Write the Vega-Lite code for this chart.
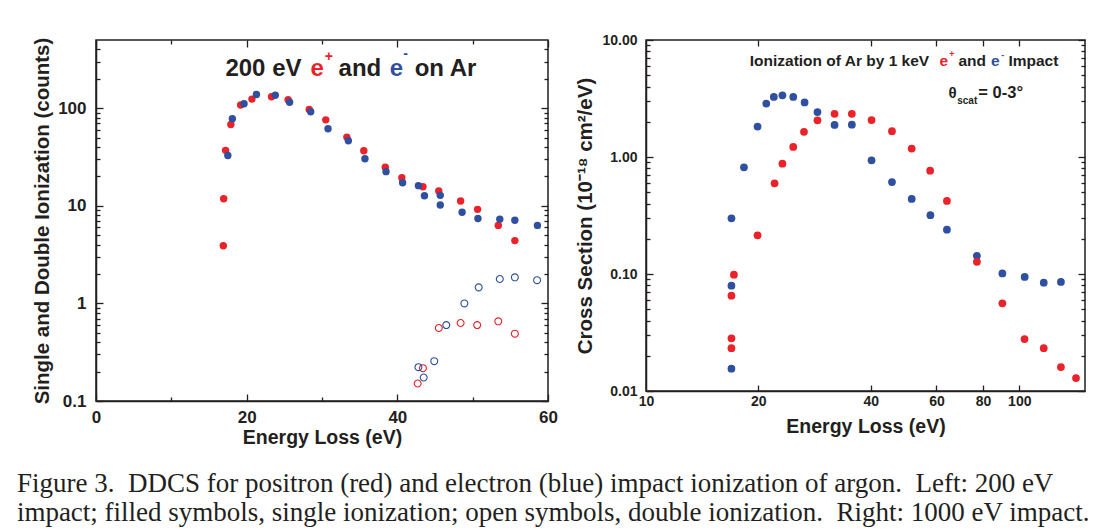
{
  "$schema": "https://vega.github.io/schema/vega-lite/v6.json",
  "background": "white",
  "padding": {"left": 16, "top": 32, "right": 5, "bottom": 5},
  "spacing": 16,
  "datasets": {
    "left": [
      {"E": 16.9, "v": 3.9, "beam": "e+", "kind": "single"},
      {"E": 16.95, "v": 11.8, "beam": "e+", "kind": "single"},
      {"E": 17.2, "v": 37, "beam": "e+", "kind": "single"},
      {"E": 17.9, "v": 68, "beam": "e+", "kind": "single"},
      {"E": 19.2, "v": 108, "beam": "e+", "kind": "single"},
      {"E": 20.7, "v": 124, "beam": "e+", "kind": "single"},
      {"E": 23.3, "v": 131, "beam": "e+", "kind": "single"},
      {"E": 25.5, "v": 122, "beam": "e+", "kind": "single"},
      {"E": 28.3, "v": 97, "beam": "e+", "kind": "single"},
      {"E": 30.5, "v": 76, "beam": "e+", "kind": "single"},
      {"E": 33.3, "v": 50.6, "beam": "e+", "kind": "single"},
      {"E": 35.55, "v": 36.6, "beam": "e+", "kind": "single"},
      {"E": 38.4, "v": 24.8, "beam": "e+", "kind": "single"},
      {"E": 40.6, "v": 19.4, "beam": "e+", "kind": "single"},
      {"E": 43.4, "v": 15.7, "beam": "e+", "kind": "single"},
      {"E": 45.5, "v": 14.2, "beam": "e+", "kind": "single"},
      {"E": 48.4, "v": 11.2, "beam": "e+", "kind": "single"},
      {"E": 50.65, "v": 9.2, "beam": "e+", "kind": "single"},
      {"E": 53.4, "v": 6.3, "beam": "e+", "kind": "single"},
      {"E": 55.6, "v": 4.4, "beam": "e+", "kind": "single"},
      {"E": 17.5, "v": 32.8, "beam": "e-", "kind": "single"},
      {"E": 18.1, "v": 78, "beam": "e-", "kind": "single"},
      {"E": 19.65, "v": 111, "beam": "e-", "kind": "single"},
      {"E": 21.3, "v": 138, "beam": "e-", "kind": "single"},
      {"E": 23.8, "v": 136, "beam": "e-", "kind": "single"},
      {"E": 25.7, "v": 115, "beam": "e-", "kind": "single"},
      {"E": 28.5, "v": 92, "beam": "e-", "kind": "single"},
      {"E": 30.8, "v": 61.5, "beam": "e-", "kind": "single"},
      {"E": 33.5, "v": 46.4, "beam": "e-", "kind": "single"},
      {"E": 35.7, "v": 30.4, "beam": "e-", "kind": "single"},
      {"E": 38.5, "v": 22.4, "beam": "e-", "kind": "single"},
      {"E": 40.7, "v": 17.2, "beam": "e-", "kind": "single"},
      {"E": 42.8, "v": 16.1, "beam": "e-", "kind": "single"},
      {"E": 43.6, "v": 12.7, "beam": "e-", "kind": "single"},
      {"E": 45.7, "v": 12.8, "beam": "e-", "kind": "single"},
      {"E": 45.7, "v": 10.2, "beam": "e-", "kind": "single"},
      {"E": 48.6, "v": 8.6, "beam": "e-", "kind": "single"},
      {"E": 50.7, "v": 7.4, "beam": "e-", "kind": "single"},
      {"E": 53.6, "v": 7.3, "beam": "e-", "kind": "single"},
      {"E": 55.6, "v": 7.1, "beam": "e-", "kind": "single"},
      {"E": 58.6, "v": 6.3, "beam": "e-", "kind": "single"},
      {"E": 42.7, "v": 0.151, "beam": "e+", "kind": "double"},
      {"E": 43.4, "v": 0.217, "beam": "e+", "kind": "double"},
      {"E": 45.5, "v": 0.56, "beam": "e+", "kind": "double"},
      {"E": 48.4, "v": 0.63, "beam": "e+", "kind": "double"},
      {"E": 50.6, "v": 0.6, "beam": "e+", "kind": "double"},
      {"E": 53.4, "v": 0.655, "beam": "e+", "kind": "double"},
      {"E": 55.6, "v": 0.49, "beam": "e+", "kind": "double"},
      {"E": 42.8, "v": 0.222, "beam": "e-", "kind": "double"},
      {"E": 43.5, "v": 0.174, "beam": "e-", "kind": "double"},
      {"E": 44.9, "v": 0.256, "beam": "e-", "kind": "double"},
      {"E": 46.5, "v": 0.6, "beam": "e-", "kind": "double"},
      {"E": 48.9, "v": 1.0, "beam": "e-", "kind": "double"},
      {"E": 50.8, "v": 1.46, "beam": "e-", "kind": "double"},
      {"E": 53.6, "v": 1.78, "beam": "e-", "kind": "double"},
      {"E": 55.6, "v": 1.85, "beam": "e-", "kind": "double"},
      {"E": 58.55, "v": 1.73, "beam": "e-", "kind": "double"}
    ],
    "right": [
      {"E": 16.94, "v": 0.0155, "beam": "e-"},
      {"E": 16.94, "v": 0.0794, "beam": "e-"},
      {"E": 16.94, "v": 0.299, "beam": "e-"},
      {"E": 18.3, "v": 0.817, "beam": "e-"},
      {"E": 19.9, "v": 1.82, "beam": "e-"},
      {"E": 21.0, "v": 2.86, "beam": "e-"},
      {"E": 22.0, "v": 3.26, "beam": "e-"},
      {"E": 23.2, "v": 3.37, "beam": "e-"},
      {"E": 24.8, "v": 3.26, "beam": "e-"},
      {"E": 26.6, "v": 2.93, "beam": "e-"},
      {"E": 28.8, "v": 2.42, "beam": "e-"},
      {"E": 32.0, "v": 1.88, "beam": "e-"},
      {"E": 35.6, "v": 1.89, "beam": "e-"},
      {"E": 40.2, "v": 0.937, "beam": "e-"},
      {"E": 45.6, "v": 0.611, "beam": "e-"},
      {"E": 51.5, "v": 0.438, "beam": "e-"},
      {"E": 57.8, "v": 0.318, "beam": "e-"},
      {"E": 64.0, "v": 0.239, "beam": "e-"},
      {"E": 77.0, "v": 0.143, "beam": "e-"},
      {"E": 90.1, "v": 0.101, "beam": "e-"},
      {"E": 103.4, "v": 0.0943, "beam": "e-"},
      {"E": 116.3, "v": 0.0843, "beam": "e-"},
      {"E": 129.3, "v": 0.0855, "beam": "e-"},
      {"E": 16.94, "v": 0.0232, "beam": "e+"},
      {"E": 16.94, "v": 0.0282, "beam": "e+"},
      {"E": 16.94, "v": 0.0653, "beam": "e+"},
      {"E": 17.2, "v": 0.0986, "beam": "e+"},
      {"E": 19.9, "v": 0.214, "beam": "e+"},
      {"E": 22.1, "v": 0.596, "beam": "e+"},
      {"E": 23.2, "v": 0.877, "beam": "e+"},
      {"E": 24.8, "v": 1.22, "beam": "e+"},
      {"E": 26.5, "v": 1.64, "beam": "e+"},
      {"E": 28.8, "v": 2.06, "beam": "e+"},
      {"E": 32.0, "v": 2.34, "beam": "e+"},
      {"E": 35.6, "v": 2.34, "beam": "e+"},
      {"E": 40.2, "v": 2.07, "beam": "e+"},
      {"E": 45.6, "v": 1.66, "beam": "e+"},
      {"E": 51.5, "v": 1.18, "beam": "e+"},
      {"E": 57.7, "v": 0.764, "beam": "e+"},
      {"E": 64.0, "v": 0.421, "beam": "e+"},
      {"E": 77.0, "v": 0.127, "beam": "e+"},
      {"E": 90.1, "v": 0.0562, "beam": "e+"},
      {"E": 103.3, "v": 0.0278, "beam": "e+"},
      {"E": 116.3, "v": 0.0232, "beam": "e+"},
      {"E": 129.3, "v": 0.016, "beam": "e+"},
      {"E": 141.9, "v": 0.0129, "beam": "e+"}
    ]
  },
  "title": {
    "text": ["Figure 3. \u00a0DDCS for positron (red) and electron (blue) impact ionization of argon. \u00a0Left: 200 eV", "impact; filled symbols, single ionization; open symbols, double ionization. \u00a0Right: 1000 eV impact."],
    "orient": "bottom",
    "anchor": "start",
    "font": "Liberation Serif",
    "fontSize": 27,
    "fontWeight": "normal",
    "color": "#231f20",
    "lineHeight": 29,
    "offset": 24,
    "dx": -15
  },
  "hconcat": [
    {
      "width": 452,
      "height": 361,
      "resolve": {"axis": {"x": "independent", "y": "independent"}},
      "layer": [
        {
          "data": {"name": "left"},
          "transform": [{"filter": "datum.kind === 'single'"}],
          "mark": {"type": "point", "filled": true, "size": 55, "opacity": 1},
          "encoding": {
            "x": {"field": "E", "type": "quantitative", "scale": {"domain": [0, 60], "nice": false, "zero": false},
              "axis": {"orient": "bottom", "title": "Energy Loss (eV)", "values": [0, 20, 40, 60], "ticks": false,
                "labelPadding": 8, "labelFontSize": 17, "titlePadding": 3, "titleFontSize": 19.5}},
            "y": {"field": "v", "type": "quantitative", "scale": {"type": "log", "domain": [0.1, 500], "nice": false},
              "axis": {"orient": "left", "title": "Single and Double Ionization (counts)", "ticks": false,
                "values": [0.1, 1, 10, 100], "format": "~g",
                "labelPadding": 10, "labelFontSize": 17, "titlePadding": 5, "titleFontSize": 20.5}},
            "color": {"field": "beam", "type": "nominal", "scale": {"domain": ["e+", "e-"], "range": ["#ea2229", "#2f4f9f"]}, "legend": null}
          }
        },
        {
          "data": {"name": "left"},
          "transform": [{"filter": "datum.kind === 'double'"}],
          "mark": {"type": "point", "filled": false, "size": 48, "strokeWidth": 1.1, "opacity": 1},
          "encoding": {
            "x": {"field": "E", "type": "quantitative", "scale": {"domain": [0, 60], "nice": false, "zero": false}, "axis": null},
            "y": {"field": "v", "type": "quantitative", "scale": {"type": "log", "domain": [0.1, 500], "nice": false}, "axis": null},
            "color": {"field": "beam", "type": "nominal", "scale": {"domain": ["e+", "e-"], "range": ["#ea2229", "#2f4f9f"]}, "legend": null}
          }
        },
        {"data": {"values": [{}]}, "mark": {"type": "text", "text": "200 eV", "align": "left", "baseline": "alphabetic", "font": "Liberation Sans", "fontWeight": "bold", "fontSize": 24, "color": "#231f20"},
          "encoding": {
            "x": {"datum": 17.18, "axis": {"orient": "bottom", "title": null, "labels": false, "domain": false, "values": [0, 20, 40, 60], "tickSize": 7, "offset": -7}},
            "y": {"datum": 214, "axis": {"orient": "left", "title": null, "labels": false, "domain": false, "values": [0.1, 1, 10, 100], "tickSize": 7, "offset": -7}}}},
        {"data": {"values": [{}]}, "mark": {"type": "text", "text": "e", "align": "left", "baseline": "alphabetic", "font": "Liberation Sans", "fontWeight": "bold", "fontSize": 24, "color": "#ea2229"},
          "encoding": {
            "x": {"datum": 28.47, "axis": {"orient": "bottom", "title": null, "labels": false, "domain": false, "values": [10, 30, 50], "tickSize": 4, "offset": -4}},
            "y": {"datum": 214, "axis": {"orient": "left", "title": null, "labels": false, "domain": false, "values": [0.2, 0.3, 0.4, 0.5, 0.6, 0.7, 0.8, 0.9, 2, 3, 4, 5, 6, 7, 8, 9, 20, 30, 40, 50, 60, 70, 80, 90, 200, 300, 400], "tickSize": 4, "offset": -4}}}},
        {"data": {"values": [{}]}, "mark": {"type": "text", "text": "+", "align": "center", "baseline": "alphabetic", "font": "Liberation Sans", "fontWeight": "bold", "fontSize": 14, "color": "#ea2229"},
          "encoding": {"x": {"datum": 30.9, "axis": null}, "y": {"datum": 307, "axis": null}}},
        {"data": {"values": [{}]}, "mark": {"type": "text", "text": "and", "align": "left", "baseline": "alphabetic", "font": "Liberation Sans", "fontWeight": "bold", "fontSize": 24, "color": "#231f20"},
          "encoding": {
            "x": {"datum": 32.2, "axis": {"orient": "top", "title": null, "labels": false, "domain": false, "values": [0, 20, 40, 60], "tickSize": 7, "offset": -7}},
            "y": {"datum": 214, "axis": {"orient": "right", "title": null, "labels": false, "domain": false, "values": [0.1, 1, 10, 100], "tickSize": 7, "offset": -7}}}},
        {"data": {"values": [{}]}, "mark": {"type": "text", "text": "e", "align": "left", "baseline": "alphabetic", "font": "Liberation Sans", "fontWeight": "bold", "fontSize": 24, "color": "#2f4f9f"},
          "encoding": {
            "x": {"datum": 39.0, "axis": {"orient": "top", "title": null, "labels": false, "domain": false, "values": [10, 30, 50], "tickSize": 4, "offset": -4}},
            "y": {"datum": 214, "axis": {"orient": "right", "title": null, "labels": false, "domain": false, "values": [0.2, 0.3, 0.4, 0.5, 0.6, 0.7, 0.8, 0.9, 2, 3, 4, 5, 6, 7, 8, 9, 20, 30, 40, 50, 60, 70, 80, 90, 200, 300, 400], "tickSize": 4, "offset": -4}}}},
        {"data": {"values": [{}]}, "mark": {"type": "text", "text": "-", "align": "center", "baseline": "alphabetic", "font": "Liberation Sans", "fontWeight": "bold", "fontSize": 14, "color": "#2f4f9f"},
          "encoding": {"x": {"datum": 41.1, "axis": null}, "y": {"datum": 326, "axis": null}}},
        {"data": {"values": [{}]}, "mark": {"type": "text", "text": "on Ar", "align": "left", "baseline": "alphabetic", "font": "Liberation Sans", "fontWeight": "bold", "fontSize": 24, "color": "#231f20"},
          "encoding": {"x": {"datum": 42.3, "axis": null}, "y": {"datum": 214, "axis": null}}}
      ]
    },
    {
      "width": 439,
      "height": 351,
      "resolve": {"axis": {"x": "independent", "y": "independent"}},
      "layer": [
        {
          "data": {"name": "right"},
          "mark": {"type": "point", "filled": true, "size": 60, "opacity": 1},
          "encoding": {
            "x": {"field": "E", "type": "quantitative", "scale": {"type": "log", "domain": [10, 150], "nice": false},
              "axis": {"orient": "bottom", "title": "Energy Loss (eV)", "values": [10, 20, 40, 60, 80, 100], "ticks": false,
                "format": "~g", "labelPadding": 3, "labelFontSize": 14, "titlePadding": 9, "titleFontSize": 19.5}},
            "y": {"field": "v", "type": "quantitative", "scale": {"type": "log", "domain": [0.01, 10], "nice": false},
              "axis": {"orient": "left", "title": "Cross Section (10⁻¹⁸ cm²/eV)", "ticks": false,
                "values": [0.01, 0.1, 1, 10], "format": ".2f",
                "labelPadding": 9, "labelFontSize": 14, "titlePadding": 6, "titleFontSize": 20.5}},
            "color": {"field": "beam", "type": "nominal", "scale": {"domain": ["e+", "e-"], "range": ["#ea2229", "#2f4f9f"]}, "legend": null}
          }
        },
        {"data": {"values": [{}]}, "mark": {"type": "text", "text": "Ionization of Ar by 1 keV", "align": "left", "baseline": "alphabetic", "font": "Liberation Sans", "fontWeight": "bold", "fontSize": 15.5, "color": "#231f20"},
          "encoding": {
            "x": {"datum": 18.96, "axis": {"orient": "bottom", "title": null, "labels": false, "domain": false, "values": [20, 40, 60, 80, 100], "tickSize": 6, "offset": -6}},
            "y": {"datum": 6.03, "axis": {"orient": "left", "title": null, "labels": false, "domain": false, "values": [0.01, 0.1, 1, 10], "tickSize": 7, "offset": -7}}}},
        {"data": {"values": [{}]}, "mark": {"type": "text", "text": "e", "align": "left", "baseline": "alphabetic", "font": "Liberation Sans", "fontWeight": "bold", "fontSize": 15.5, "color": "#ea2229"},
          "encoding": {
            "x": {"datum": 61.1, "axis": {"orient": "top", "title": null, "labels": false, "domain": false, "values": [20, 40, 60, 80, 100], "tickSize": 6, "offset": -6}},
            "y": {"datum": 6.03, "axis": {"orient": "left", "title": null, "labels": false, "domain": false, "values": [0.02, 0.03, 0.04, 0.05, 0.06, 0.07, 0.08, 0.09, 0.2, 0.3, 0.4, 0.5, 0.6, 0.7, 0.8, 0.9, 2, 3, 4, 5, 6, 7, 8, 9], "tickSize": 4, "offset": -4}}}},
        {"data": {"values": [{}]}, "mark": {"type": "text", "text": "+", "align": "center", "baseline": "alphabetic", "font": "Liberation Sans", "fontWeight": "bold", "fontSize": 9, "color": "#ea2229"},
          "encoding": {"x": {"datum": 66.0, "axis": null}, "y": {"datum": 7.09, "axis": null}}},
        {"data": {"values": [{}]}, "mark": {"type": "text", "text": "and", "align": "left", "baseline": "alphabetic", "font": "Liberation Sans", "fontWeight": "bold", "fontSize": 15.5, "color": "#231f20"},
          "encoding": {
            "x": {"datum": 68.7, "axis": null},
            "y": {"datum": 6.03, "axis": {"orient": "right", "title": null, "labels": false, "domain": false, "values": [0.01, 0.1, 1, 10], "tickSize": 7, "offset": -7}}}},
        {"data": {"values": [{}]}, "mark": {"type": "text", "text": "e", "align": "left", "baseline": "alphabetic", "font": "Liberation Sans", "fontWeight": "bold", "fontSize": 15.5, "color": "#2f4f9f"},
          "encoding": {
            "x": {"datum": 84.0, "axis": null},
            "y": {"datum": 6.03, "axis": {"orient": "right", "title": null, "labels": false, "domain": false, "values": [0.02, 0.03, 0.04, 0.05, 0.06, 0.07, 0.08, 0.09, 0.2, 0.3, 0.4, 0.5, 0.6, 0.7, 0.8, 0.9, 2, 3, 4, 5, 6, 7, 8, 9], "tickSize": 4, "offset": -4}}}},
        {"data": {"values": [{}]}, "mark": {"type": "text", "text": "-", "align": "center", "baseline": "alphabetic", "font": "Liberation Sans", "fontWeight": "bold", "fontSize": 9, "color": "#2f4f9f"},
          "encoding": {"x": {"datum": 90.3, "axis": null}, "y": {"datum": 7.06, "axis": null}}},
        {"data": {"values": [{}]}, "mark": {"type": "text", "text": "Impact", "align": "left", "baseline": "alphabetic", "font": "Liberation Sans", "fontWeight": "bold", "fontSize": 15.5, "color": "#231f20"},
          "encoding": {"x": {"datum": 93.5, "axis": null}, "y": {"datum": 6.03, "axis": null}}},
        {"data": {"values": [{}]}, "mark": {"type": "text", "text": "θ", "align": "left", "baseline": "alphabetic", "font": "Liberation Sans", "fontWeight": "bold", "fontSize": 15, "color": "#231f20"},
          "encoding": {"x": {"datum": 64.6, "axis": null}, "y": {"datum": 3.18, "axis": null}}},
        {"data": {"values": [{}]}, "mark": {"type": "text", "text": "scat", "align": "left", "baseline": "alphabetic", "font": "Liberation Sans", "fontWeight": "bold", "fontSize": 10, "color": "#231f20"},
          "encoding": {"x": {"datum": 68.2, "axis": null}, "y": {"datum": 2.84, "axis": null}}},
        {"data": {"values": [{}]}, "mark": {"type": "text", "text": "= 0-3°", "align": "left", "baseline": "alphabetic", "font": "Liberation Sans", "fontWeight": "bold", "fontSize": 16.5, "color": "#231f20"},
          "encoding": {"x": {"datum": 77.7, "axis": null}, "y": {"datum": 3.18, "axis": null}}}
      ]
    }
  ],
  "config": {
    "view": {"stroke": "#231f20", "strokeWidth": 1.5},
    "axis": {
      "domainColor": "#231f20", "domainWidth": 1.5,
      "tickColor": "#231f20", "tickWidth": 1.3,
      "labelFont": "Liberation Sans", "labelFontWeight": "bold", "labelColor": "#231f20",
      "titleFont": "Liberation Sans", "titleFontWeight": "bold", "titleColor": "#231f20", "titleFontSize": 18,
      "grid": false, "labelFlush": false, "labelOverlap": false
    }
  }
}
